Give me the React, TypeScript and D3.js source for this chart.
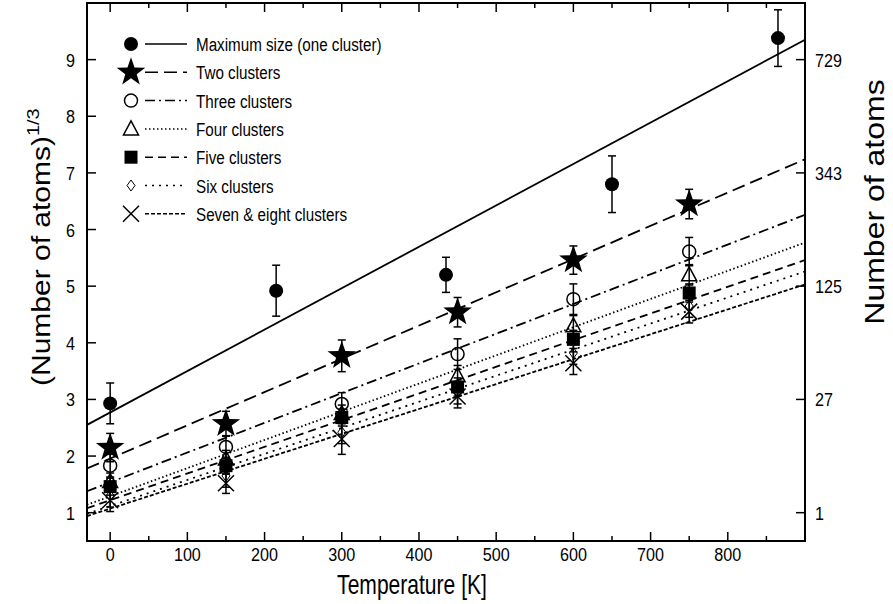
import React from "react";
import * as d3 from "d3";

const temps = [0, 150, 300, 450, 600, 750];
const maxTemps = [0, 215, 435, 650, 865];
const maxVals = [2.93, 4.92, 5.2, 6.8, 9.38];
const maxErr = [0.36, 0.45, 0.31, 0.5, 0.5];
const twoVals = [2.15, 2.57, 3.77, 4.54, 5.46, 6.45];
const twoErr = [0.25, 0.22, 0.28, 0.26, 0.25, 0.26];
const threeVals = [1.83, 2.16, 2.92, 3.8, 4.77, 5.61];
const threeErr = [0.2, 0.2, 0.2, 0.27, 0.27, 0.25];
const fourVals = [1.55, 1.95, 2.75, 3.42, 4.3, 5.2];
const fourErr = [0.15, 0.15, 0.15, 0.18, 0.18, 0.18];
const fiveVals = [1.46, 1.83, 2.68, 3.22, 4.06, 4.88];
const fiveErr = [0.15, 0.15, 0.15, 0.16, 0.16, 0.16];
const sixVals = [1.3, 1.65, 2.42, 3.12, 3.82, 4.65];
const sixErr = [0.2, 0.2, 0.2, 0.2, 0.2, 0.2];
const sevenVals = [1.22, 1.52, 2.3, 3.05, 3.64, 4.55];
const sevenErr = [0.2, 0.18, 0.27, 0.2, 0.2, 0.2];

const seriesNames = [
  "Maximum size (one cluster)",
  "Two clusters",
  "Three clusters",
  "Four clusters",
  "Five clusters",
  "Six clusters",
  "Seven & eight clusters",
];
const fitIntercept = [2.77, 1.956, 1.537, 1.289, 1.221, 1.118, 1.072];
const fitSlope = [0.007312, 0.005871, 0.005247, 0.004978, 0.00471, 0.004602, 0.004398];

const xTicks = [0, 100, 200, 300, 400, 500, 600, 700, 800];
const yTicks = [1, 2, 3, 4, 5, 6, 7, 8, 9];
const rightTicks = [1, 27, 125, 343, 729];

const W = 893;
const H = 604;
const L = 87, R = 805, T = 3, B = 541;

const x = d3.scaleLinear().domain([-30, 900]).range([L, R]);
const y = d3.scaleLinear().domain([0.5, 10]).range([B, T]);

const dashes = ["none", "13,6", "10,4,2,4", "1.5,2.5", "8,5", "2,5", "4,2"];

type Marker = "fcircle" | "star" | "ocircle" | "triangle" | "square" | "diamond" | "x";
const markers: Marker[] = ["fcircle", "star", "ocircle", "triangle", "square", "diamond", "x"];

function starPath(r: number) {
  const pts: string[] = [];
  for (let i = 0; i < 10; i++) {
    const a = -Math.PI / 2 + (i * Math.PI) / 5;
    const rr = i % 2 === 0 ? r : r * 0.4;
    pts.push(`${(rr * Math.cos(a)).toFixed(2)},${(rr * Math.sin(a)).toFixed(2)}`);
  }
  return "M" + pts.join("L") + "Z";
}

function MarkerShape({ m, cx, cy }: { m: Marker; cx: number; cy: number }) {
  const t = `translate(${cx},${cy})`;
  switch (m) {
    case "fcircle":
      return <circle cx={cx} cy={cy} r={7} fill="#000" />;
    case "star":
      return <path transform={t} d={starPath(15)} fill="#000" />;
    case "ocircle":
      return <circle cx={cx} cy={cy} r={6.5} fill="none" stroke="#000" strokeWidth={1.5} />;
    case "triangle":
      return <path transform={t} d="M0,-8L7.5,6L-7.5,6Z" fill="none" stroke="#000" strokeWidth={1.5} />;
    case "square":
      return <rect x={cx - 6.5} y={cy - 6.5} width={13} height={13} fill="#000" />;
    case "diamond":
      return <path transform={t} d="M0,-5.5L4,0L0,5.5L-4,0Z" fill="none" stroke="#000" strokeWidth={1} />;
    case "x":
      return <path transform={t} d="M-8,-8L8,8M-8,8L8,-8" fill="none" stroke="#000" strokeWidth={1.5} />;
  }
}

const seriesData = [
  { xs: maxTemps, ys: maxVals, es: maxErr },
  { xs: temps, ys: twoVals, es: twoErr },
  { xs: temps, ys: threeVals, es: threeErr },
  { xs: temps, ys: fourVals, es: fourErr },
  { xs: temps, ys: fiveVals, es: fiveErr },
  { xs: temps, ys: sixVals, es: sixErr },
  { xs: temps, ys: sevenVals, es: sevenErr },
];

function HText({
  x: tx, y: ty, size, sx, anchor = "start", children,
}: { x: number; y: number; size: number; sx: number; anchor?: string; children: React.ReactNode }) {
  return (
    <text transform={`translate(${tx},${ty}) scale(${sx},1)`} fontSize={size} textAnchor={anchor as any}>
      {children}
    </text>
  );
}

export default function App() {
  const font = "'Liberation Sans', Arial, sans-serif";
  const minorX = d3.range(0, 901, 50);
  const tickSize = 19;
  const tickSx = 0.85;
  return (
    <svg width={W} height={H} style={{ position: "absolute", left: 0, top: 0 }} fontFamily={font}>
      <rect width={W} height={H} fill="#fff" />
      <defs>
        <clipPath id="pa">
          <rect x={L} y={T} width={R - L} height={B - T} />
        </clipPath>
      </defs>
      <g clipPath="url(#pa)">
        {fitIntercept.map((b, i) => {
          const x0 = -30, x1 = 900;
          return (
            <line
              key={i}
              x1={x(x0)}
              y1={y(b + fitSlope[i] * x0)}
              x2={x(x1)}
              y2={y(b + fitSlope[i] * x1)}
              stroke="#000"
              strokeWidth={1.8}
              strokeDasharray={dashes[i]}
            />
          );
        })}
      </g>
      {seriesData.map((s, si) => (
        <g key={si}>
          {s.xs.map((xv, j) => {
            const cx = x(xv);
            const top = y(s.ys[j] + s.es[j]);
            const bot = y(s.ys[j] - s.es[j]);
            return (
              <g key={j} stroke="#000" strokeWidth={1.5}>
                <line x1={cx} x2={cx} y1={top} y2={bot} />
                <line x1={cx - 4} x2={cx + 4} y1={top} y2={top} />
                <line x1={cx - 4} x2={cx + 4} y1={bot} y2={bot} />
              </g>
            );
          })}
          {s.xs.map((xv, j) => (
            <MarkerShape key={"m" + j} m={markers[si]} cx={x(xv)} cy={y(s.ys[j])} />
          ))}
        </g>
      ))}
      <rect x={L} y={T} width={R - L} height={B - T} fill="none" stroke="#000" strokeWidth={2} />
      {minorX.map((v) => {
        const major = v % 100 === 0;
        const len = major ? 9 : 5;
        return (
          <g key={v} stroke="#000" strokeWidth={1.5}>
            <line x1={x(v)} x2={x(v)} y1={B} y2={B - len} />
            <line x1={x(v)} x2={x(v)} y1={T} y2={T + len} />
          </g>
        );
      })}
      {xTicks.map((v) => (
        <HText key={v} x={x(v)} y={561} size={tickSize} sx={tickSx} anchor="middle">
          {v}
        </HText>
      ))}
      {yTicks.map((v) => (
        <g key={v}>
          <line x1={L} x2={L + 9} y1={y(v)} y2={y(v)} stroke="#000" strokeWidth={1.5} />
          <HText x={75} y={y(v) + 7} size={tickSize} sx={tickSx} anchor="end">
            {v}
          </HText>
        </g>
      ))}
      {rightTicks.map((v) => {
        const yy = y(Math.cbrt(v));
        return (
          <g key={v}>
            <line x1={R - 9} x2={R} y1={yy} y2={yy} stroke="#000" strokeWidth={1.5} />
            <HText x={815} y={yy + 7} size={tickSize} sx={tickSx} anchor="start">
              {v}
            </HText>
          </g>
        );
      })}
      <HText x={412} y={594} size={27} sx={0.78} anchor="middle">
        Temperature [K]
      </HText>
      <text transform={`translate(50,386) scale(0.85,1) rotate(-90)`} textAnchor="start" fontSize={30}>
        (Number of atoms)
        <tspan fontSize={20} dy={-13}>1/3</tspan>
      </text>
      <text transform={`translate(884,202) scale(0.85,1) rotate(-90)`} textAnchor="middle" fontSize={32}>
        Number of atoms
      </text>
      {seriesNames.map((name, i) => {
        const ly = 44 + i * 28.3;
        return (
          <g key={name}>
            <MarkerShape m={markers[i]} cx={131} cy={ly} />
            <line x1={145} x2={187} y1={ly} y2={ly} stroke="#000" strokeWidth={1.5} strokeDasharray={dashes[i]} />
            <HText x={196} y={ly + 7} size={19} sx={0.8}>
              {name}
            </HText>
          </g>
        );
      })}
    </svg>
  );
}
